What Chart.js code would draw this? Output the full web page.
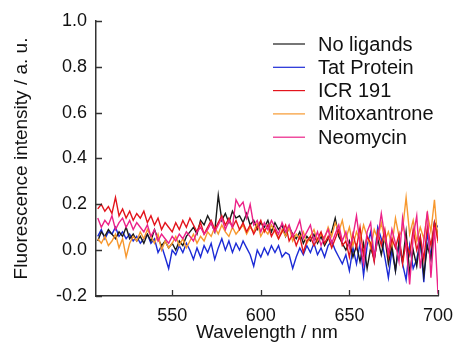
<!DOCTYPE html>
<html>
<head>
<meta charset="utf-8">
<script src="https://cdn.jsdelivr.net/npm/chart.js@4"></script>
<style>
  html, body { margin: 0; padding: 0; background: #fff; }
  #wrap { width: 457px; height: 344px; }
</style>
</head>
<body>
<div id="wrap"><canvas id="chart" width="457" height="344"></canvas></div>
<script>
// wavelengths 508..700 nm, step 2
const wavelengths = [];
for (let w = 508; w <= 700; w += 2) wavelengths.push(w);

const xTicks = [550, 600, 650, 700];
const yTicks = [-0.2, 0.0, 0.2, 0.4, 0.6, 0.8, 1.0];

const noLigands = [
  0.04, 0.08, 0.06, 0.09, 0.07, 0.05, 0.08, 0.06, 0.10, 0.05,
  0.07, 0.04, 0.06, 0.03, 0.07, 0.04, 0.09, 0.05, 0.02, 0.04,
  0.01, 0.03, 0.00, 0.04, 0.02, 0.06, 0.08, 0.10, 0.07, 0.13,
  0.11, 0.15, 0.12, 0.08, 0.24, 0.13, 0.16, 0.12, 0.17, 0.14,
  0.15, 0.12, 0.16, 0.11, 0.13, 0.09, 0.12, 0.10, 0.13, 0.08,
  0.12, 0.09, 0.11, 0.06, 0.10, 0.07, 0.05, 0.08, 0.03, 0.06,
  0.04, 0.07, 0.03, 0.06, 0.02, 0.05, 0.08, 0.14, 0.06, 0.03,
  0.00, 0.04, -0.03, 0.02, -0.05, 0.03, -0.08, 0.01, -0.04, 0.05,
  -0.02, 0.06, -0.06, 0.02, -0.09, 0.04, -0.05, 0.08, -0.10, 0.00,
  -0.07, 0.05, -0.11, 0.02, -0.04, 0.12, 0.07
];
const tatProtein = [
  0.06, 0.09, 0.05, 0.08, 0.07, 0.10, 0.06, 0.08, 0.05, 0.07,
  0.04, 0.06, 0.03, 0.05, 0.07, 0.03, 0.05, -0.01, 0.02, -0.03,
  -0.08, 0.00, -0.02, 0.02, -0.01, 0.03, 0.00, -0.04, 0.01, -0.03,
  0.02, -0.01, 0.03, -0.04, 0.01, 0.05, 0.00, 0.04, -0.01, 0.03,
  0.00, 0.04, 0.01, -0.02, -0.07, 0.00, -0.03, 0.01, -0.02, 0.02,
  -0.01, 0.02, -0.03, -0.01, -0.02, -0.08, -0.03, 0.01, -0.02, 0.02,
  -0.01, 0.03, -0.02, 0.01, -0.03, 0.02, 0.04, 0.00, -0.03, -0.06,
  -0.02, -0.09, 0.01, -0.06, 0.03, -0.11, 0.02, 0.08, -0.04, 0.10,
  0.05, -0.03, -0.12, 0.00, -0.09, 0.03, -0.06, -0.13, 0.02, -0.08,
  -0.04, 0.04, -0.14, 0.08, -0.03, 0.12, 0.10
];
const icr191 = [
  0.18, 0.20, 0.17, 0.19, 0.16, 0.23, 0.15, 0.18, 0.14, 0.17,
  0.13, 0.16, 0.14, 0.17, 0.12, 0.15, 0.11, 0.14, 0.09, 0.12,
  0.10, 0.08, 0.12, 0.09, 0.13, 0.10, 0.14, 0.11, 0.08, 0.12,
  0.07, 0.10, 0.13, 0.09, 0.12, 0.15, 0.11, 0.14, 0.10, 0.13,
  0.09, 0.12, 0.08, 0.11, 0.07, 0.10, 0.13, 0.08, 0.11, 0.06,
  0.09, 0.05, 0.08, 0.11, 0.04, 0.07, 0.02, 0.06, -0.01, 0.04,
  0.06, 0.02, 0.05, 0.08, 0.03, 0.06, 0.01, 0.05, 0.09, 0.02,
  0.04, -0.03, 0.07, 0.01, 0.10, -0.02, 0.06, 0.03, -0.05, 0.08,
  0.02, 0.09, -0.03, 0.05, 0.01, 0.07, -0.06, 0.04, -0.02, 0.09,
  0.00, 0.06, -0.04, 0.10, 0.02, 0.12, 0.04
];
const mitoxantrone = [
  0.05, 0.03, 0.06, 0.02, 0.04, 0.07, 0.01, 0.05, -0.03, 0.03,
  0.06, 0.04, 0.08, 0.05, 0.09, 0.06, 0.03, 0.07, 0.00, 0.04,
  0.01, 0.03, 0.06, 0.02, 0.05, 0.01, 0.04, 0.07, 0.03, 0.06,
  0.04, 0.08, 0.06, 0.10, 0.07, 0.11, 0.08, 0.06, 0.10, 0.07,
  0.09, 0.11, 0.07, 0.10, 0.08, 0.12, 0.06, 0.09, 0.07, 0.11,
  0.08, 0.05, 0.09, 0.06, 0.10, 0.04, 0.07, 0.05, 0.08, 0.03,
  0.06, 0.09, 0.04, 0.07, 0.05, 0.10, 0.06, 0.12, 0.08, 0.13,
  0.05, 0.10, 0.02, 0.08, 0.04, 0.11, 0.06, 0.01, 0.09, 0.05,
  0.12, 0.04, 0.08, 0.02, 0.14, 0.06, 0.09, 0.23, 0.07, 0.13,
  0.04, 0.10, 0.05, 0.16, 0.08, 0.22, 0.03
];
const neomycin = [
  0.14, 0.10, 0.13, 0.11, 0.15, 0.09, 0.12, 0.14, 0.10, 0.13,
  0.09, 0.12, 0.10, 0.08, 0.11, 0.06, 0.09, 0.04, 0.07, 0.05,
  0.03, 0.06, 0.04, 0.07, 0.05, 0.08, 0.06, 0.04, 0.08, 0.10,
  0.07, 0.09, 0.12, 0.08, 0.11, 0.14, 0.09, 0.13, 0.10, 0.22,
  0.19, 0.21, 0.14, 0.20, 0.11, 0.13, 0.08, 0.12, 0.09, 0.13,
  0.10, 0.07, 0.12, 0.08, 0.11, 0.06, 0.09, 0.13, 0.05, 0.08,
  0.11, 0.04, 0.08, 0.02, 0.06, 0.09, 0.03, 0.07, 0.11, 0.04,
  0.08, 0.01, 0.06, 0.15, 0.03, -0.06, 0.08, 0.12, -0.03, 0.05,
  0.16, 0.06, -0.01, 0.09, 0.03, -0.05, 0.14, 0.02, -0.15, 0.06,
  0.15, -0.08, 0.04, 0.17, -0.12, 0.10, -0.19
];

const seriesNames = ["No ligands", "Tat Protein", "ICR 191", "Mitoxantrone", "Neomycin"];
const seriesValues = [noLigands, tatProtein, icr191, mitoxantrone, neomycin];
const seriesColors = ["#1a1a1a", "#1c2bd6", "#e3141c", "#f7982e", "#ec2288"];
const drawOrder = [3, 4, 1, 2, 0]; // lower = drawn on top

const FONT = "Liberation Sans, Arial, sans-serif";

function pts(vals) {
  return vals.map((v, i) => ({ x: wavelengths[i], y: v }));
}

// inward ticks + legend
const decor = {
  id: "decor",
  afterDraw(chart) {
    const ctx = chart.ctx;
    const xs = chart.scales.x, ys = chart.scales.y;
    const a = chart.chartArea;
    ctx.save();
    ctx.strokeStyle = "#333";
    ctx.lineWidth = 1.3;
    ctx.beginPath();
    xTicks.forEach(t => {
      const px = Math.round(xs.getPixelForValue(t)) + 0.5;
      ctx.moveTo(px, a.bottom);
      ctx.lineTo(px, a.bottom - 6);
    });
    yTicks.forEach(t => {
      const py = Math.round(ys.getPixelForValue(t)) + 0.5;
      ctx.moveTo(a.left, py);
      ctx.lineTo(a.left + 6, py);
    });
    ctx.stroke();

    // legend
    ctx.font = "20px " + FONT;
    ctx.textBaseline = "middle";
    ctx.textAlign = "left";
    seriesNames.forEach((name, i) => {
      const y = 44 + i * 23.3;
      ctx.strokeStyle = seriesColors[i];
      ctx.lineWidth = 1.2;
      ctx.beginPath();
      ctx.moveTo(273, y);
      ctx.lineTo(305, y);
      ctx.stroke();
      ctx.fillStyle = "#111";
      ctx.fillText(name, 318, y + 1);
    });
    ctx.restore();
  }
};

new Chart(document.getElementById("chart"), {
  type: "line",
  data: {
    datasets: seriesNames.map((name, i) => ({
      label: name,
      data: pts(seriesValues[i]),
      borderColor: seriesColors[i],
      borderWidth: 1.4,
      pointRadius: 0,
      tension: 0,
      fill: false,
      order: drawOrder[i]
    }))
  },
  options: {
    responsive: false,
    animation: false,
    layout: { padding: { top: 21, right: 19, left: 0, bottom: 0 } },
    plugins: {
      legend: { display: false },
      tooltip: { enabled: false }
    },
    scales: {
      x: {
        type: "linear",
        min: 507,
        max: 700,
        afterBuildTicks(scale) { scale.ticks = xTicks.map(v => ({ value: v })); },
        afterFit(scale) {
          scale.height = 48;
          scale.paddingLeft = 0;
          scale.paddingRight = 0;
        },
        grid: { display: false, drawTicks: false },
        border: { display: true, color: "#333", width: 1.5 },
        ticks: { color: "#111", font: { family: FONT, size: 18 }, padding: 9, maxRotation: 0, autoSkip: false },
        title: { display: true, text: "Wavelength / nm", color: "#111", font: { family: FONT, size: 19 }, padding: { top: 0, bottom: 0 } }
      },
      y: {
        min: -0.2,
        max: 1.0,
        afterBuildTicks(scale) { scale.ticks = yTicks.map(v => ({ value: v })); },
        afterFit(scale) {
          scale.width = 96;
          scale.paddingTop = 0;
          scale.paddingBottom = 0;
        },
        grid: { display: false, drawTicks: false },
        border: { display: true, color: "#333", width: 1.5 },
        ticks: { color: "#111", font: { family: FONT, size: 18 }, padding: 9, callback: v => v.toFixed(1) },
        title: { display: true, text: "Fluorescence intensity / a. u.", color: "#111", font: { family: FONT, size: 19 }, padding: { top: 10, bottom: 4 } }
      }
    }
  },
  plugins: [decor]
});
</script>
</body>
</html>
